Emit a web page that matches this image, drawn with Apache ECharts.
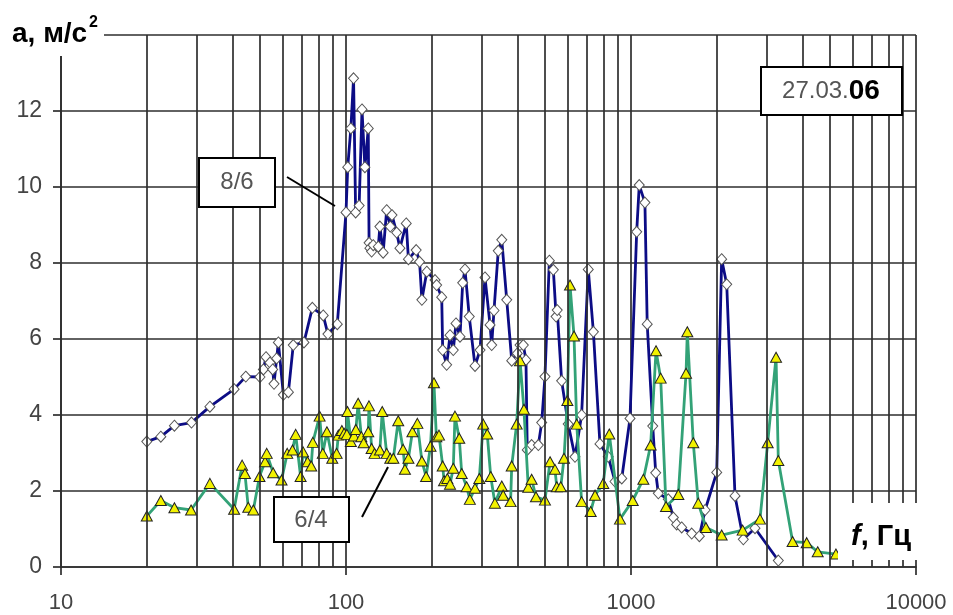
<!DOCTYPE html>
<html>
<head>
<meta charset="utf-8">
<script src="https://cdn.jsdelivr.net/npm/echarts@6/dist/echarts.min.js"></script>
<style>html,body{margin:0;padding:0;background:#fff}#c{width:953px;height:615px}</style>
</head>
<body>
<div id="c"></div>
<script>
// ---- data ----
const xTickLabels = [10, 100, 1000, 10000];
const yTickLabels = [0, 2, 4, 6, 8, 10, 12];
const minorGrid = [20,30,40,50,60,70,80,90,200,300,400,500,600,700,800,900,2000,3000,4000,5000,6000,7000,8000,9000];

const freq86 = [20,22.4,25,28.7,33.3,40.5,44.5,49.9,51.3,52.4,54.1,55.3,55.9,57.1,57.9,60.3,62.8,65.3,71.2,76.2,83.2,86.4,93.2,100,101.4,104,106.3,108.1,111.2,113.8,116.5,119.7,120.5,121.3,123,124.6,129.8,131.5,135,138.9,143,145,150.6,154.6,162.7,165.6,176.3,181.2,184.6,192.1,205.3,208,216.7,218.4,225.5,231.7,237.9,243.2,251.2,256.7,261.5,270.7,283.6,295.3,307.4,320.2,324.5,330.6,342.2,352,366.4,381.5,399,408,419,428,432.5,448,473,486,499,517,534,546,551,571,602,636,671,708,738,778,832,879,928,992,1047,1069,1119,1140,1192,1221,1247,1352,1408,1446,1506,1633,1737,1820,1999,2080,2167,2317,2478,2723,3288];
const acc86 = [3.30,3.43,3.72,3.80,4.22,4.68,5.01,5.00,5.20,5.52,5.38,5.20,4.82,5.49,5.91,4.53,4.60,5.84,5.91,6.82,6.62,6.13,6.39,9.33,10.52,11.54,12.86,9.33,9.51,12.04,10.52,11.54,8.53,8.39,8.30,8.47,8.43,8.96,8.27,9.39,8.96,9.26,8.80,8.39,9.04,8.10,8.34,8.03,7.03,7.77,7.55,7.42,7.10,5.71,5.32,6.10,5.71,6.41,6.06,7.48,7.83,6.59,5.29,5.71,7.62,6.37,5.84,6.75,8.32,8.61,7.03,5.43,5.62,5.84,5.84,5.45,3.08,3.21,3.21,3.80,5.01,8.06,7.82,6.59,6.76,4.90,3.76,2.90,4.00,7.83,6.19,3.24,2.90,2.25,2.33,3.91,8.82,10.05,9.59,6.39,3.71,2.48,1.94,1.78,1.30,1.12,1.04,0.88,0.81,1.50,2.49,8.10,7.44,1.87,0.73,1.02,0.17];

const freq64 = [20,22.4,25,28.6,33.3,40.5,43.2,44.2,45.4,47.3,49.7,52,52.7,55.5,59.4,62.2,64.9,66.6,69.3,70.7,73.3,75.5,76.5,80.8,82.9,85.7,89.5,92.7,94,96.7,98.5,100.7,101.2,104,106.7,108.3,110.3,113.2,115.3,119.7,120.4,123,126,131.5,134,138.9,143,146.6,152.5,158.6,161,165.6,171,178,184.6,191,197.9,203.5,207.5,212,218.4,220.8,226.7,231.7,237.9,241.2,249.7,254.7,265,272,283.6,293.6,303,313,322,333,352,356,378,381.5,397,408,421,436,448,464,499,520,541,549,567,582,598,611,631,645,671,722,748,799,839,915,1014,1105,1172,1224,1271,1327,1466,1560,1576,1654,1722,1832,2080,2465,2835,3017,3228,3288,3690,4135,4520,5236];
const acc64 = [1.34,1.75,1.56,1.50,2.20,1.52,2.68,2.46,1.57,1.50,2.38,2.77,2.99,2.48,2.29,2.99,3.08,3.49,2.38,3.03,2.77,2.66,3.28,3.97,2.99,3.56,2.86,2.99,3.47,3.59,3.52,3.49,4.09,3.30,3.45,3.62,4.31,3.43,3.27,3.56,4.24,3.12,2.99,3.08,4.09,2.99,2.86,2.86,3.85,3.10,2.57,2.86,3.56,3.78,2.79,2.38,3.18,4.85,3.43,3.47,2.66,2.27,2.33,2.18,2.60,3.97,3.39,2.46,2.11,1.78,2.07,2.33,3.76,3.50,2.38,1.68,2.13,1.89,1.72,2.66,3.76,5.43,4.15,2.10,2.31,1.85,1.76,2.77,2.57,2.11,2.11,2.86,4.38,7.42,6.08,3.76,1.72,1.46,1.89,2.20,3.50,1.26,1.75,2.31,3.21,5.69,4.97,1.59,1.91,5.10,6.19,3.27,1.68,1.04,0.84,0.97,1.26,3.27,5.52,2.80,0.67,0.64,0.40,0.34];

const seriesNames = ['8/6', '6/4'];
const dateLabel = ['27.03.', '06'];

// ---- chart ----
const FONT = '"Liberation Sans", Arial, sans-serif';
const gridColor = '#2e2e2e';
const chart = echarts.init(document.getElementById('c'), null, {renderer: 'canvas'});

const option = {
  animation: false,
  backgroundColor: '#fff',
  grid: {left: 61, right: 37, top: 35, bottom: 48, containLabel: false},
  xAxis: {
    type: 'log', logBase: 10, min: 10, max: 10000,
    axisLine: {show: true, lineStyle: {color: gridColor, width: 1.7}},
    axisTick: {show: true, length: 8, lineStyle: {color: gridColor, width: 1.7}},
    axisLabel: {
      margin: 25, color: '#444', fontSize: 22, fontFamily: FONT,
      formatter: v => xTickLabels.indexOf(Math.round(v)) >= 0 ? String(Math.round(v)) : ''
    },
    splitLine: {show: true, lineStyle: {color: gridColor, width: 1.7}},
    minorTick: {show: false}, minorSplitLine: {show: false}
  },
  yAxis: {
    type: 'value', min: 0, max: 14, interval: 2,
    axisLine: {show: true, lineStyle: {color: gridColor, width: 1.7}},
    axisTick: {show: true, length: 8, lineStyle: {color: gridColor, width: 1.7}},
    axisLabel: {
      margin: 19, color: '#444', fontSize: 23, fontFamily: FONT,
      formatter: v => yTickLabels.indexOf(v) >= 0 ? String(v) : ''
    },
    splitLine: {show: true, lineStyle: {color: gridColor, width: 1.7}}
  },
  series: [
    {
      type: 'line', data: [], silent: true, z: 1,
      markLine: {
        silent: true, symbol: ['none', 'none'], label: {show: false},
        lineStyle: {color: gridColor, width: 1.7, type: 'solid'},
        emphasis: {disabled: true},
        data: minorGrid.map(v => ({xAxis: v}))
      }
    },
    {
      name: seriesNames[0], type: 'line', z: 3,
      data: freq86.map((f, i) => [f, acc86[i]]),
      symbol: 'diamond', symbolSize: [10, 11],
      itemStyle: {color: '#ffffff', borderColor: '#555', borderWidth: 1},
      lineStyle: {color: '#0c0c85', width: 2.8}
    },
    {
      name: seriesNames[1], type: 'line', z: 4,
      data: freq64.map((f, i) => [f, acc64[i]]),
      symbol: 'triangle', symbolSize: [11, 10],
      itemStyle: {color: '#f2f200', borderColor: '#222', borderWidth: 1},
      lineStyle: {color: '#33a277', width: 2.8}
    }
  ],
  graphic: [
    // y axis title
    {type: 'rect', z: 100, shape: {x: 0, y: 0, width: 104, height: 56}, style: {fill: '#fff'}},
    {type: 'text', z: 101, x: 12, y: 34, style: {text: 'a, м/с', font: 'bold 28px ' + FONT, fill: '#000', textVerticalAlign: 'middle'}},
    {type: 'text', z: 101, x: 89, y: 23, style: {text: '2', font: 'bold 16px ' + FONT, fill: '#000', textVerticalAlign: 'middle'}},
    // x axis title
    {type: 'rect', z: 100, shape: {x: 838, y: 503, width: 115, height: 57}, style: {fill: '#fff'}},
    {type: 'text', z: 101, x: 851, y: 537, style: {
      text: '{i|f}{b|, Гц}', textVerticalAlign: 'middle',
      rich: {i: {font: 'italic bold 29px ' + FONT, fill: '#000'}, b: {font: 'bold 29px ' + FONT, fill: '#000'}}
    }},
    // date box
    {type: 'rect', z: 100, shape: {x: 761, y: 67, width: 141, height: 48}, style: {fill: '#fff', stroke: '#000', lineWidth: 2}},
    {type: 'text', z: 101, x: 831, y: 91, style: {
      text: '{a|' + dateLabel[0] + '}{b|' + dateLabel[1] + '}', textAlign: 'center', textVerticalAlign: 'middle',
      rich: {a: {font: '24px ' + FONT, fill: '#555'}, b: {font: 'bold 28px ' + FONT, fill: '#000'}}
    }},
    // 8/6 label
    {type: 'rect', z: 100, shape: {x: 199, y: 158, width: 76, height: 49}, style: {fill: '#fff', stroke: '#000', lineWidth: 2}},
    {type: 'text', z: 101, x: 237, y: 182, style: {text: seriesNames[0], font: '24px ' + FONT, fill: '#555', textAlign: 'center', textVerticalAlign: 'middle'}},
    {type: 'line', z: 100, shape: {x1: 287, y1: 177, x2: 335, y2: 206}, style: {stroke: '#000', lineWidth: 2}},
    // 6/4 label
    {type: 'rect', z: 100, shape: {x: 274, y: 497, width: 75, height: 45}, style: {fill: '#fff', stroke: '#000', lineWidth: 2}},
    {type: 'text', z: 101, x: 311, y: 520, style: {text: seriesNames[1], font: '24px ' + FONT, fill: '#555', textAlign: 'center', textVerticalAlign: 'middle'}},
    {type: 'line', z: 100, shape: {x1: 362, y1: 517, x2: 388, y2: 467}, style: {stroke: '#000', lineWidth: 2}}
  ]
};
chart.setOption(option);
</script>
</body>
</html>
